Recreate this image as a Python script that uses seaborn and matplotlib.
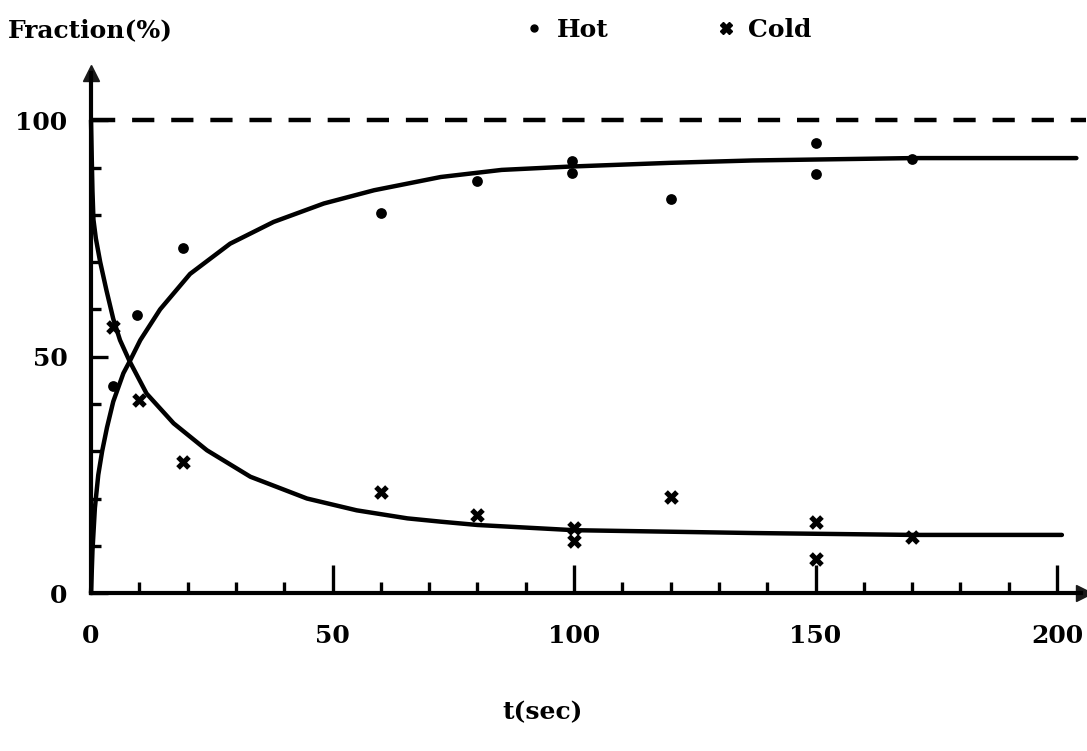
import matplotlib
matplotlib.use("Agg")
import matplotlib.pyplot as plt
import seaborn as sns
from matplotlib.lines import Line2D

# ---- data ----
hot_t = [4.5, 9.5, 19, 60, 80, 99.5, 99.5, 120, 150, 150, 170]
hot_v = [43.8, 58.8, 73.0, 80.3, 87.2, 91.3, 88.8, 83.3, 95.1, 88.7, 91.9]

cold_t = [4.5, 10, 19, 60, 80, 100, 100, 120, 150, 150, 170]
cold_v = [56.3, 40.8, 27.8, 21.4, 16.6, 13.7, 11.0, 20.3, 15.1, 7.3, 11.9]

hot_fit_t = [0, 0.3, 0.8, 1.5, 2.3, 3.3, 4.6, 6.7, 8, 10.2, 14.3, 20.5, 28.8, 37.8, 48.2, 58.6, 72.4, 85, 99, 120, 137, 170, 204]
hot_fit_v = [0, 9, 18, 25, 30, 35, 40.5, 46.5, 49, 53.5, 60, 67.5, 73.9, 78.5, 82.4, 85.2, 88.0, 89.5, 90.2, 91, 91.5, 92, 92]

cold_fit_t = [0, 0.15, 0.3, 0.5, 1, 1.9, 3.2, 4.6, 6, 8, 11.5, 17.1, 24, 33, 44.7, 55, 65.5, 72.4, 80, 100, 137, 170, 201]
cold_fit_v = [100, 92, 85, 79, 75, 70, 64, 58, 53.5, 49, 42.2, 35.9, 30.2, 24.6, 20, 17.5, 15.8, 15.1, 14.4, 13.3, 12.7, 12.3, 12.3]

ref_t = [0.5, 206]
ref_v = [100, 100]

x_major = [0, 50, 100, 150, 200]
x_minor = [10, 20, 30, 40, 60, 70, 80, 90, 110, 120, 130, 140, 160, 170, 180, 190]
y_major = [0, 50, 100]
y_minor = [10, 20, 30, 40, 60, 70, 80, 90]

sns.set_theme(style="white")
plt.rcParams["font.family"] = ["DejaVu Serif"]
plt.rcParams["font.weight"] = "bold"
plt.rcParams["text.color"] = "black"
plt.rcParams["xtick.color"] = "black"
plt.rcParams["ytick.color"] = "black"

FS = 18
fig = plt.figure(figsize=(10.87, 7.51), dpi=100)
ax = fig.add_axes([0.0793, 0.1977, 0.9176, 0.7177])

lw = 3.2
sns.lineplot(x=ref_t, y=ref_v, ax=ax, color="black", lw=lw, linestyle=(0, (5, 3.8)), clip_on=False)
sns.lineplot(x=hot_fit_t, y=hot_fit_v, ax=ax, color="black", lw=lw, sort=True, estimator=None)
sns.lineplot(x=cold_fit_t, y=cold_fit_v, ax=ax, color="black", lw=lw, sort=True, estimator=None)

sns.scatterplot(x=hot_t, y=hot_v, ax=ax, color="black", marker="o", s=60, edgecolor="black", linewidth=0, zorder=5)
sns.scatterplot(x=cold_t, y=cold_v, ax=ax, color="black", marker="X", s=110, edgecolor="black", linewidth=0, zorder=5)

ax.set_xlim(-1, 205.5)
ax.set_ylim(-2, 112)

for s in ["top", "right"]:
    ax.spines[s].set_visible(False)
for s in ["left", "bottom"]:
    ax.spines[s].set_position(("data", 0))
    ax.spines[s].set_linewidth(3)
    ax.spines[s].set_color("black")
ax.spines["bottom"].set_bounds(0, 205)
ax.spines["left"].set_bounds(0, 110)

ax.plot(1, 0, ">k", transform=ax.get_yaxis_transform(), clip_on=False, markersize=11)
ax.plot(0, 110, "^k", clip_on=False, markersize=11)

ax.set_xticks(x_major)
ax.set_xticks(x_minor, minor=True)
ax.set_yticks(y_major)
ax.set_yticks(y_minor, minor=True)
ax.set_xticklabels([str(v) for v in x_major], fontsize=FS, fontweight="bold", color="black")
ax.set_yticklabels([str(v) for v in y_major], fontsize=FS, fontweight="bold", color="black")
ax.tick_params(axis="x", which="major", direction="in", length=20, width=2.4, pad=22, colors="black", bottom=True)
ax.tick_params(axis="x", which="minor", direction="in", length=8, width=2.4, colors="black", bottom=True)
ax.tick_params(axis="y", which="major", direction="in", length=12, width=2.4, pad=17, colors="black", left=True)
ax.tick_params(axis="y", which="minor", direction="in", length=7, width=2.4, colors="black", left=True)
ax.set_xlabel("")
ax.set_ylabel("")
ax.grid(False)

fig.text(8 / 1087, 1 - 30 / 751, "Fraction(%)", ha="left", va="center", fontsize=FS, fontweight="bold", color="black")
fig.text(543 / 1087, 1 - 712 / 751, "t(sec)", ha="center", va="center", fontsize=FS, fontweight="bold", color="black")

handles = [
    Line2D([], [], marker="o", color="black", linestyle="none", markersize=5),
    Line2D([], [], marker="X", color="black", linestyle="none", markersize=8),
]
leg = fig.legend(handles, ["Hot", "Cold"], loc="center", bbox_to_anchor=(668 / 1087, 1 - 30 / 751),
                 ncol=2, frameon=False, handlelength=0.8, handletextpad=0.5,
                 columnspacing=4.3, prop={"weight": "bold", "size": FS})
for t in leg.get_texts():
    t.set_color("black")

fig.savefig("out.png", dpi=100, facecolor="white")
